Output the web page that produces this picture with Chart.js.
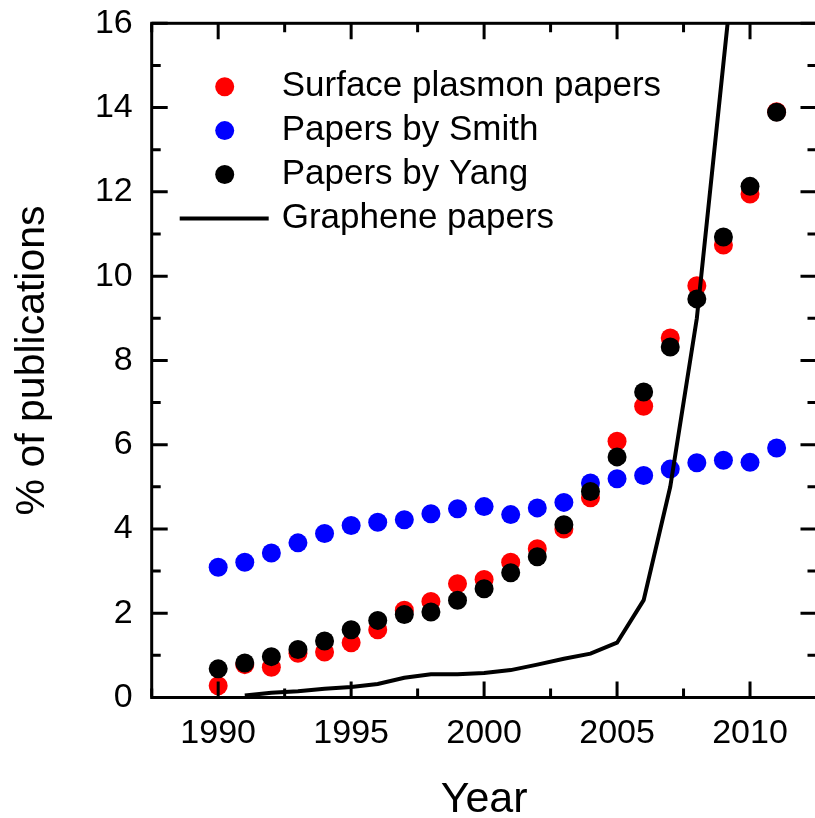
<!DOCTYPE html>
<html>
<head>
<meta charset="utf-8">
<title>Publications by year</title>
<script src="https://cdn.jsdelivr.net/npm/chart.js@4.4.1/dist/chart.umd.min.js"></script>
<style>
    html, body { margin: 0; padding: 0; background: #fff; overflow: hidden; }
    #wrap { width: 817px; height: 830px; }
</style>
</head>
<body>
<div id="wrap"><canvas id="pubChart" width="817" height="830"></canvas></div>
<script>
// Data
const years = [1990, 1991, 1992, 1993, 1994, 1995, 1996, 1997, 1998, 1999, 2000,
               2001, 2002, 2003, 2004, 2005, 2006, 2007, 2008, 2009, 2010, 2011];
const surfacePlasmon = [0.28, 0.78, 0.72, 1.05, 1.08, 1.30, 1.61, 2.07, 2.28, 2.70, 2.80,
                        3.21, 3.53, 4.00, 4.74, 6.08, 6.91, 8.53, 9.77, 10.74, 11.95, 13.90];
const smithPapers = [3.09, 3.21, 3.43, 3.67, 3.89, 4.08, 4.16, 4.22, 4.36, 4.48, 4.53,
                     4.34, 4.50, 4.63, 5.09, 5.19, 5.27, 5.42, 5.57, 5.63, 5.58, 5.92];
const yangPapers = [0.68, 0.82, 0.97, 1.14, 1.34, 1.61, 1.83, 1.97, 2.03, 2.31, 2.58,
                    2.96, 3.34, 4.10, 4.89, 5.71, 7.25, 8.32, 9.46, 10.93, 12.13, 13.89];
const grapheneYears = [1991, 1992, 1993, 1994, 1995, 1996, 1997, 1998, 1999, 2000,
                       2001, 2002, 2003, 2004, 2005, 2006, 2007, 2008, 2009, 2010];
const graphenePapers = [0.05, 0.11, 0.15, 0.21, 0.25, 0.32, 0.47, 0.55, 0.55, 0.58,
                        0.65, 0.78, 0.92, 1.04, 1.30, 2.31, 5.00, 9.00, 15.05, 21.10];
const xTickLabels = ['1990', '1995', '2000', '2005', '2010'];
const yTickLabels = ['0', '2', '4', '6', '8', '10', '12', '14', '16'];

const FONT = "'Liberation Sans', Arial, Helvetica, sans-serif";

function toPoints(xs, ys) {
    return xs.map((x, i) => ({ x: x, y: ys[i] }));
}

// keep tick labels from pushing the plot area inwards
function noOverhang(scale) {
    scale.paddingTop = 0;
    scale.paddingBottom = 0;
    scale.paddingLeft = 0;
    scale.paddingRight = 0;
}

// Frame with inward ticks on all four sides
const frameTicks = {
    id: 'frameTicks',
    afterDatasetsDraw(chart) {
        const { ctx, chartArea: a, scales } = chart;
        ctx.save();
        ctx.strokeStyle = '#000';
        ctx.lineWidth = 3;
        ctx.lineCap = 'butt';
        ctx.beginPath();

        scales.x.ticks.forEach(t => {
            const px = scales.x.getPixelForValue(t.value);
            const len = t.value % 5 === 0 ? 16 : 9;
            ctx.moveTo(px, a.bottom);
            ctx.lineTo(px, a.bottom - len);
            ctx.moveTo(px, a.top);
            ctx.lineTo(px, a.top + len);
        });
        scales.y.ticks.forEach(t => {
            const py = scales.y.getPixelForValue(t.value);
            const len = t.value % 2 === 0 ? 16 : 9;
            ctx.moveTo(a.left, py);
            ctx.lineTo(a.left + len, py);
            ctx.moveTo(a.right, py);
            ctx.lineTo(a.right - len, py);
        });
        ctx.stroke();
        ctx.strokeRect(a.left, a.top, a.right - a.left, a.bottom - a.top);
        ctx.restore();
    }
};

// Legend drawn inside the plot, top left
const innerLegend = {
    id: 'innerLegend',
    afterDatasetsDraw(chart) {
        const { ctx, chartArea: a } = chart;
        const markX = a.left + 73;
        const textX = a.left + 130;
        const rowTop = a.top + 63.4;
        const rowGap = 43.9;
        ctx.save();
        ctx.font = '35px ' + FONT;
        ctx.textBaseline = 'middle';
        ctx.textAlign = 'left';
        chart.data.datasets.forEach((ds, i) => {
            const y = rowTop + i * rowGap;
            if (ds.showLine) {
                ctx.strokeStyle = ds.borderColor;
                ctx.lineWidth = 4;
                ctx.beginPath();
                ctx.moveTo(a.left + 28, y);
                ctx.lineTo(a.left + 117, y);
                ctx.stroke();
            } else {
                ctx.fillStyle = ds.backgroundColor;
                ctx.beginPath();
                ctx.arc(markX, y, 9.5, 0, Math.PI * 2);
                ctx.fill();
            }
            ctx.fillStyle = '#000';
            ctx.fillText(ds.label, textX, y);
        });
        ctx.restore();
    }
};

const ctx = document.getElementById('pubChart').getContext('2d');
new Chart(ctx, {
    type: 'scatter',
    data: {
        datasets: [
            {
                label: 'Surface plasmon papers',
                data: toPoints(years, surfacePlasmon),
                backgroundColor: '#ff0000',
                borderWidth: 0,
                pointRadius: 9.5,
                order: 2
            },
            {
                label: 'Papers by Smith',
                data: toPoints(years, smithPapers),
                backgroundColor: '#0000ff',
                borderWidth: 0,
                pointRadius: 9.5,
                order: 3
            },
            {
                label: 'Papers by Yang',
                data: toPoints(years, yangPapers),
                backgroundColor: '#000000',
                borderWidth: 0,
                pointRadius: 9.5,
                order: 1
            },
            {
                label: 'Graphene papers',
                data: toPoints(grapheneYears, graphenePapers),
                showLine: true,
                borderColor: '#000000',
                backgroundColor: '#000000',
                borderWidth: 4,
                pointRadius: 0,
                tension: 0,
                clip: 0,
                order: 0
            }
        ]
    },
    options: {
        responsive: false,
        animation: false,
        devicePixelRatio: 1,
        events: [],
        layout: {
            autoPadding: false,
            padding: { top: 23.3, right: 0.5, left: 0, bottom: 0 }
        },
        plugins: {
            legend: { display: false },
            tooltip: { enabled: false }
        },
        scales: {
            x: {
                type: 'linear',
                min: 1987.5,
                max: 2012.5,
                grid: { display: false, drawTicks: false },
                border: { display: false },
                ticks: {
                    stepSize: 2.5,
                    autoSkip: false,
                    maxRotation: 0,
                    padding: 16,
                    color: '#000',
                    font: { family: FONT, size: 34 },
                    callback: v => xTickLabels.includes(String(v)) ? String(v) : ''
                },
                title: {
                    display: true,
                    text: 'Year',
                    color: '#000',
                    font: { family: FONT, size: 43 },
                    padding: { top: 0, bottom: 4 }
                },
                afterFit(scale) {
                    scale.height = 132.5;
                    noOverhang(scale);
                }
            },
            y: {
                type: 'linear',
                min: 0,
                max: 16,
                grid: { display: false, drawTicks: false },
                border: { display: false },
                ticks: {
                    stepSize: 1,
                    autoSkip: false,
                    padding: 19,
                    color: '#000',
                    font: { family: FONT, size: 34 },
                    callback: v => yTickLabels.includes(String(v)) ? String(v) : ''
                },
                title: {
                    display: true,
                    text: '% of publications',
                    color: '#000',
                    font: { family: FONT, size: 41 },
                    padding: { top: 8, bottom: 0 }
                },
                afterFit(scale) {
                    scale.width = 151.7;
                    noOverhang(scale);
                }
            }
        }
    },
    plugins: [frameTicks, innerLegend]
});
</script>
</body>
</html>
